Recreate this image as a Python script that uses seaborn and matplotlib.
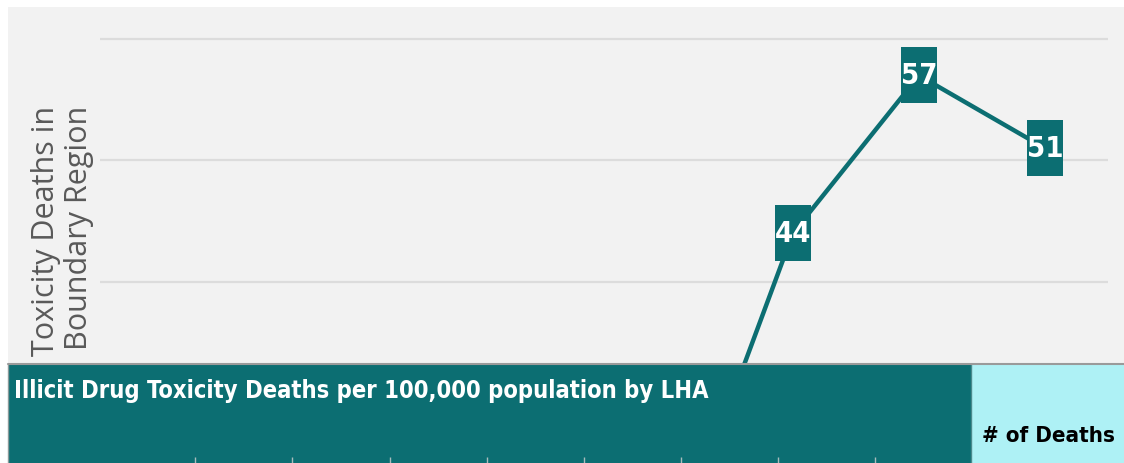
import os
import numpy as np
import pandas as pd
import matplotlib
matplotlib.use("Agg")
import matplotlib.pyplot as plt
import matplotlib.font_manager as fm
from matplotlib.patches import Rectangle
from matplotlib.lines import Line2D
import seaborn as sns

# ---- data (only the right-hand part of the chart is visible) ----
years = ["2016", "2017", "2018", "2019", "2020", "2021", "2022", "2023"]
rates = [np.nan, np.nan, np.nan, np.nan, 16, 44, 57, 51]
grid_values = [40, 50, 60]
ylabel_lines = ["Illicit Drug Toxicity Deaths in", "Boundary Region"]
title_text = "Illicit Drug Toxicity Deaths per 100,000 population by LHA"
deaths_header = "# of Deaths"

TEAL = "#0c6e72"
CYAN = "#aef1f5"
PANEL = "#f2f2f2"
GRID = "#dcdcdc"

sns.set_theme(style="white")


def narrow_bold(size):
    """Find an installed condensed / narrow bold face, else fall back."""
    best, best_score = None, -1
    for f in fm.fontManager.ttflist:
        key = (f.name + " " + os.path.basename(f.fname)).lower()
        stretch = str(f.stretch).lower()
        narrow = ("narrow" in key or "condensed" in key
                  or stretch in ("condensed", "semi-condensed", "extra-condensed"))
        if not narrow:
            continue
        w = f.weight if isinstance(f.weight, int) else {"bold": 700, "normal": 400}.get(str(f.weight), 400)
        score = 10
        if "semicondensed" in key or "semi" in key:
            score -= 2
        if "extra" in key or "ultra" in key:
            score -= 3
        if f.style != "normal":
            score -= 8
        score -= abs(w - 700) / 100
        if "sans" in key or "narrow" in key:
            score += 1
        if score > best_score:
            best, best_score = f, score
    if best is not None:
        return fm.FontProperties(fname=best.fname, size=size)
    return fm.FontProperties(family=["Roboto", "DejaVu Sans"], weight="bold",
                             size=size)


W, H = 1124, 464
fig = plt.figure(figsize=(W / 100, H / 100), dpi=100, facecolor="white")


def fx(px):
    return px / W


def fy(py):
    return 1 - py / H


# grey background panel
fig.patches.append(Rectangle((fx(8), 0), fx(W - 8), 1 - 8 / H,
                             transform=fig.transFigure, facecolor=PANEL,
                             edgecolor="none", zorder=0))

# main line chart axes
ax = fig.add_axes([fx(100), fy(365), fx(1008), 357 / H])
ax.set_zorder(1)
ax.patch.set_alpha(0)
df = pd.DataFrame({"pos": np.arange(len(years)), "year": years, "rate": rates})
rect_marker = [(-18, -28.5), (18, -28.5), (18, 28.5), (-18, 28.5), (-18, -28.5)]
sns.lineplot(data=df.dropna(), x="pos", y="rate", ax=ax, color=TEAL, lw=3.2,
             marker=rect_marker, markersize=41, markeredgewidth=0,
             markerfacecolor=TEAL, zorder=3)
ax.set_xlim(-0.5, len(years) - 0.5)
ax.set_ylim(33.2, 62.65)
ylo, yhi = ax.get_ylim()
for p, v in zip(df["pos"], df["rate"]):
    if np.isfinite(v) and ylo < v < yhi:
        ax.text(p, v, f"{v:.0f}", ha="center", va="center", color="white",
                fontproperties=narrow_bold(21), zorder=5, clip_on=True)
ax.set_yticks(grid_values)
ax.yaxis.grid(True, color=GRID, lw=1.6)
ax.xaxis.grid(False)
ax.set_axisbelow(True)
ax.tick_params(left=False, bottom=False, labelleft=False, labelbottom=False)
for s in ax.spines.values():
    s.set_visible(False)
ax.set_xlabel("")
ax.set_ylabel("")

# rotated two-line axis title (partly hidden by the band below)
for cx, line in zip([46, 79], ylabel_lines):
    fig.text(fx(cx), fy(106), line, rotation=90, ha="center", va="top",
             color="#595959", fontsize=22, family=["Open Sans", "DejaVu Sans"],
             zorder=2)

# teal band with title
band = fig.add_axes([fx(8), 0, fx(971 - 8), (H - 365) / H])
band.set_zorder(10)
band.set_facecolor(TEAL)
band.set_xlim(-1.93, 7.99)
band.set_ylim(0, 1)
band.set_xticks(range(8))
band.set_yticks([])
band.tick_params(axis="x", direction="in", length=4.5, width=1,
                 color="#a9bcbc", labelbottom=False, bottom=True)
for s in band.spines.values():
    s.set_visible(False)
band.spines["left"].set_visible(True)
band.spines["left"].set_color("#8a9a9a")
band.spines["left"].set_linewidth(1)

cyan = fig.add_axes([fx(971), 0, fx(W - 971), (H - 365) / H])
cyan.set_zorder(10)
cyan.set_facecolor(CYAN)
cyan.set_xticks([])
cyan.set_yticks([])
for s in cyan.spines.values():
    s.set_visible(False)
cyan.spines["left"].set_visible(True)
cyan.spines["left"].set_color("#4a8a8c")
cyan.spines["left"].set_linewidth(1)

fig.add_artist(Line2D([fx(8), 1], [fy(365), fy(365)], color="#9a9a9a",
                      lw=1.5, transform=fig.transFigure, zorder=11))

fig.text(fx(14), fy(391), title_text, ha="left", va="center", color="white",
         fontproperties=narrow_bold(17), zorder=12)
fig.text(fx(982), fy(436), deaths_header, ha="left", va="center",
         color="black", fontproperties=narrow_bold(16), zorder=12)

fig.savefig("out.png", dpi=100, facecolor="white")
